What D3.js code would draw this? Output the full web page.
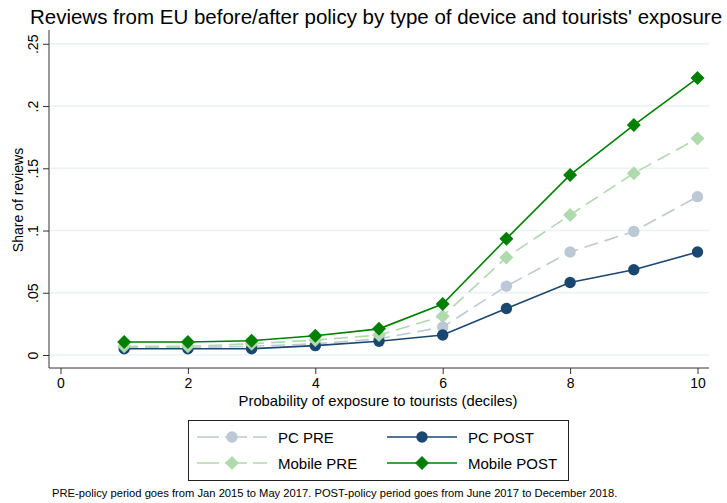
<!DOCTYPE html>
<html><head><meta charset="utf-8">
<script src="https://cdn.jsdelivr.net/npm/d3@7"></script>
<style>body{margin:0;background:#fff}text{font-family:"Liberation Sans",Arial,Helvetica,sans-serif}</style>
</head><body><svg id="c" width="727" height="503"></svg>
<script>
const deciles = [1,2,3,4,5,6,7,8,9,10];
const pcPre = [0.006,0.006,0.007,0.009,0.013,0.0225,0.0553,0.0827,0.0993,0.1272];
const pcPost = [0.005,0.005,0.005,0.0075,0.011,0.0161,0.0374,0.0583,0.0685,0.0827];
const mobilePre = [0.007,0.007,0.009,0.012,0.016,0.0312,0.0784,0.1125,0.146,0.174];
const mobilePost = [0.0105,0.0105,0.0115,0.0155,0.021,0.041,0.0934,0.1447,0.1847,0.2225];
const xTicks = [0,2,4,6,8,10];
const yTicks = [0,0.05,0.1,0.15,0.2,0.25];
const yTickLabels = ["0",".05",".1",".15",".2",".25"];
const seriesNames = ["PC PRE","PC POST","Mobile PRE","Mobile POST"];
const title = "Reviews from EU before/after policy by type of device and tourists' exposure";
const xTitle = "Probability of exposure to tourists (deciles)";
const yTitle = "Share of reviews";
const note = "PRE-policy period goes from Jan 2015 to May 2017. POST-policy period goes from June 2017 to December 2018.";

const series = [
  {name:seriesNames[0], values:pcPre, color:"#bcc8d6", dash:"14,7", shape:"circle"},
  {name:seriesNames[1], values:pcPost, color:"#1a476f", dash:null, shape:"circle"},
  {name:seriesNames[2], values:mobilePre, color:"#b1d9ae", dash:"14,7", shape:"diamond"},
  {name:seriesNames[3], values:mobilePost, color:"#008000", dash:null, shape:"diamond"}
];

const svg = d3.select("#c");
const x = d3.scaleLinear().domain([0,10]).range([60.5,697.5]);
const y = d3.scaleLinear().domain([0,0.25]).range([355,43.8]);
const plotL = 49, plotR = 709, axisY = 368;

svg.append("text").attr("x",376).attr("y",24).attr("text-anchor","middle")
  .attr("font-size",20.5).attr("fill","#000").text(title);

// gridlines
svg.append("g").selectAll("line").data(yTicks).join("line")
  .attr("x1",plotL+1).attr("x2",plotR).attr("y1",d=>y(d)).attr("y2",d=>y(d))
  .attr("stroke","#eaf2f3").attr("stroke-width",1.5);

// y axis
const yAxis = d3.axisLeft(y).tickValues(yTicks).tickFormat((d,i)=>yTickLabels[i]).tickSize(6).tickSizeOuter(0);
const gy = svg.append("g").attr("transform",`translate(${plotL},0)`).call(yAxis);
gy.select(".domain").attr("d",`M0,30V${axisY}`).attr("stroke","#333");
gy.selectAll(".tick line").attr("stroke","#333");
gy.selectAll(".tick text").attr("font-size",14).attr("fill","#000").attr("font-family",null)
  .attr("transform","rotate(-90)").attr("x",0).attr("y",-11).attr("dy","0").attr("text-anchor","middle");

// x axis
const xAxis = d3.axisBottom(x).tickValues(xTicks).tickFormat(d3.format("d")).tickSize(6).tickSizeOuter(0);
const gx = svg.append("g").attr("transform",`translate(0,${axisY})`).call(xAxis);
gx.select(".domain").attr("d",`M${plotL},0H${plotR}`).attr("stroke","#333");
gx.selectAll(".tick line").attr("stroke","#333");
gx.selectAll(".tick text").attr("font-size",14).attr("fill","#000").attr("font-family",null).attr("y",10).attr("dy","0.71em");

svg.append("text").attr("x",378).attr("y",406).attr("text-anchor","middle").attr("font-size",14.8).text(xTitle);
svg.append("text").attr("transform","translate(23,200) rotate(-90)").attr("text-anchor","middle").attr("font-size",14).text(yTitle);

const line = d3.line().x((d,i)=>x(deciles[i])).y(d=>y(d));
const diamond = r => `M0,${-r}L${r},0L0,${r}L${-r},0Z`;
function drawMarker(g, s, cx, cy){
  if(s.shape==="circle") g.append("circle").attr("cx",cx).attr("cy",cy).attr("r",5.7).attr("fill",s.color);
  else g.append("path").attr("d",diamond(7)).attr("transform",`translate(${cx},${cy})`).attr("fill",s.color);
}
series.forEach(s=>{
  const g = svg.append("g");
  g.append("path").attr("d",line(s.values)).attr("fill","none").attr("stroke",s.color)
    .attr("stroke-width",1.6).attr("stroke-dasharray",s.dash);
  s.values.forEach((v,i)=>drawMarker(g,s,x(deciles[i]),y(v)));
});

// legend
svg.append("rect").attr("x",188.5).attr("y",420.5).attr("width",380).attr("height",60)
  .attr("fill","#fff").attr("stroke","#222").attr("stroke-width",1);
const legPos = [[197,437],[387,437],[197,463],[387,463]];
series.forEach((s,i)=>{
  const [lx,ly] = legPos[i];
  const g = svg.append("g");
  g.append("line").attr("x1",lx).attr("x2",lx+70).attr("y1",ly).attr("y2",ly).attr("stroke",s.color)
    .attr("stroke-width",1.6).attr("stroke-dasharray",s.dash?"22,6":null);
  drawMarker(g,s,lx+35,ly);
  g.append("text").attr("x",lx+81).attr("y",ly+5.5).attr("font-size",15).text(s.name);
});

svg.append("text").attr("x",52).attr("y",497).attr("font-size",11.2).text(note);
</script></body></html>
